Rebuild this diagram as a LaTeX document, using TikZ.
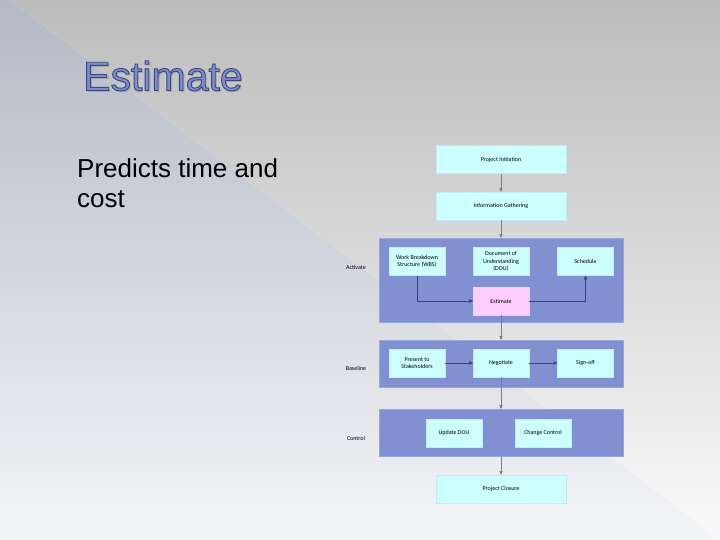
\documentclass[tikz,border=0pt]{standalone}
\usepackage{fontspec}
\setmainfont{Liberation Sans}
\newfontfamily\boxfont{Carlito}
\usetikzlibrary{arrows}
\usepackage{xcolor}
\definecolor{bandblue}{RGB}{128,144,208}
\definecolor{boxcyan}{RGB}{206,255,255}
\definecolor{boxpink}{RGB}{255,204,255}
\definecolor{titleblue}{RGB}{123,139,208}
\definecolor{flowline}{RGB}{60,70,112}
% outlined letters: fill and stroke render mode
\newcommand\outlined[1]{\special{pdf:literal direct 2 Tr 0.9 w 0.235 0.282 0.471 RG}#1\special{pdf:literal direct 0 Tr}}
\tikzset{
 band/.style={fill=bandblue, draw=bandblue!80!white, line width=.6, minimum width=244, minimum height=#1, inner sep=0},
 stepbox/.style={fill=boxcyan, draw=cyan!25!white, line width=.5, minimum width=56, minimum height=28, inner sep=1, align=center, font=\boxfont\fontsize{6}{7.5}\selectfont},
 widebox/.style={stepbox, minimum width=130},
 phase/.style={font=\boxfont\fontsize{6}{7}\selectfont, inner sep=0},
 flow/.style={flowline, line width=.5, ->, >=stealth'},
 drop/.style={gray, line width=.5, ->, >=stealth'}
}
\begin{document}
\begin{tikzpicture}[x=1pt, y=-1pt]
\useasboundingbox (0,0) rectangle (720,540);
% slide background
\shade[top color={rgb,255:red,179;green,185;blue,197}, bottom color={rgb,255:red,244;green,245;blue,248}] (0,0)--(10,0)--(720,540)--(0,540)--cycle;
\shade[top color={rgb,255:red,188;green,188;blue,188}, bottom color={rgb,255:red,250;green,250;blue,250}] (10,0)--(720,0)--(720,540)--cycle;
% title and text
\node[anchor=base west, inner sep=0, text=gray!70, font=\fontsize{41}{41}\selectfont] (titleshadow) at (84.8,92.3) {Estimate};
\node[anchor=base west, inner sep=0, text=titleblue, font=\fontsize{41}{41}\selectfont] (title) at (83,90.5) {\outlined{Estimate}};
\node[anchor=north west, inner sep=0, align=left, font=\fontsize{26}{30}\selectfont] (predicts) at (77,158) {Predicts time and\\cost};
% phase bands
\node[band=84] (actband) at (501,280) {};
\node[band=47] (baseband) at (501,363.5) {};
\node[band=47] (ctrlband) at (501,432.5) {};
\node[phase] (actlabel) at (356,267) {Activate};
\node[phase] (baselabel) at (356,368) {Baseline};
\node[phase] (ctrllabel) at (356,438) {Control};
% steps
\node[widebox] (init) at (501,159.5) {Project Initiation};
\node[widebox] (gather) at (501,206) {Information Gathering};
\node[stepbox] (wbs) at (417,261.5) {Work Breakdown\\Structure (WBS)};
\node[stepbox] (dou) at (501,261.5) {Document of\\Understanding\\(DOU)};
\node[stepbox] (sched) at (585.5,261.5) {Schedule};
\node[stepbox, fill=boxpink] (est) at (501,301) {Estimate};
\node[stepbox] (present) at (417,363) {Present to\\Stakeholders};
\node[stepbox] (negot) at (501,363) {Negotiate};
\node[stepbox] (signoff) at (585.5,363) {Sign-off};
\node[stepbox] (update) at (454,433) {Update DOU};
\node[stepbox] (change) at (543,433) {Change Control};
\node[widebox] (closure) at (501,489) {Project Closure};
% connectors
\draw[drop] (init) -- (gather);
\draw[drop] (gather) -- (actband);
\draw[flow] (wbs.south) |- (est.west);
\draw[flow] (est.east) -| (sched.south);
\draw[drop] (est) -- (baseband.north);
\draw[flow] (present) -- (negot);
\draw[flow] (negot) -- (signoff);
\draw[drop] (negot) -- (ctrlband.north);
\draw[drop] (ctrlband) -- (closure);
\end{tikzpicture}
\end{document}
